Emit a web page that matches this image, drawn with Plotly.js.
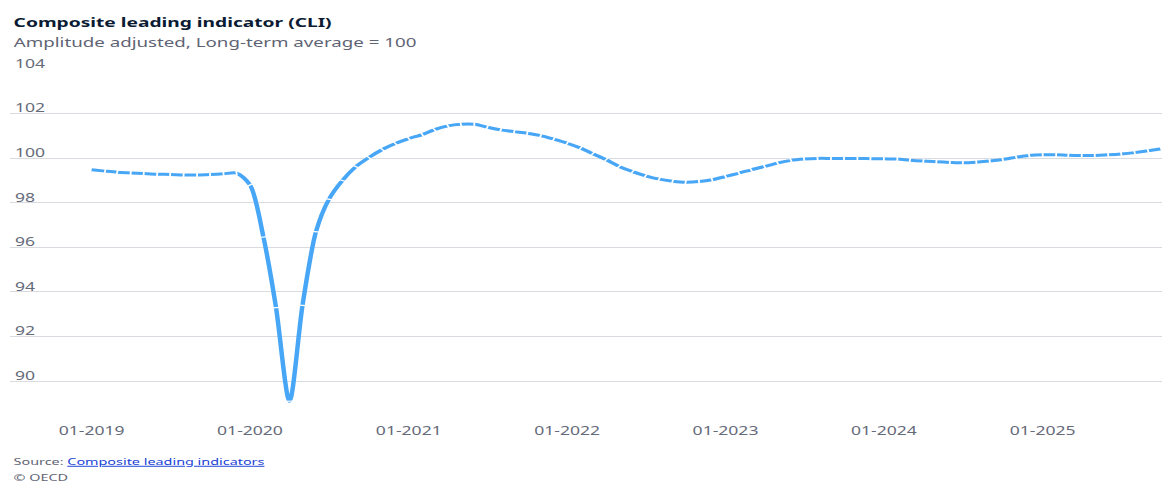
<!DOCTYPE html>
<html>
<head>
<meta charset="utf-8">
<script src="https://cdn.plot.ly/plotly-3.0.1.min.js"></script>
<style>
html,body{margin:0;padding:0;background:#fff;overflow:hidden;width:1162px;height:483px;}
#chart{width:775px;height:483px;transform:scaleX(1.49935);transform-origin:0 0;}
</style>
</head>
<body>
<div id="chart"></div>
<script>
// Monthly CLI values, Jan 2019 .. Oct 2025
const startYear = 2019;
const cli2019 = [99.48, 99.42, 99.37, 99.34, 99.31, 99.28, 99.27, 99.25, 99.25, 99.27, 99.30, 99.33];
const cli2020 = [98.80, 96.46, 93.30, 89.10, 93.40, 96.70, 98.16, 99.00, 99.62, 100.03, 100.39, 100.66];
const cli2021 = [100.88, 101.06, 101.28, 101.45, 101.52, 101.52, 101.39, 101.27, 101.19, 101.12, 101.01, 100.85];
const cli2022 = [100.67, 100.45, 100.20, 99.93, 99.63, 99.40, 99.21, 99.06, 98.97, 98.92, 98.95, 99.03];
const cli2023 = [99.18, 99.33, 99.48, 99.63, 99.78, 99.90, 99.96, 99.99, 99.99, 99.99, 99.99, 99.98];
const cli2024 = [99.97, 99.96, 99.91, 99.87, 99.84, 99.81, 99.79, 99.82, 99.87, 99.94, 100.04, 100.12];
const cli2025 = [100.15, 100.15, 100.13, 100.12, 100.12, 100.15, 100.19, 100.25, 100.33, 100.42];
const yTicks = [90, 92, 94, 96, 98, 100, 102, 104];

const values = [].concat(cli2019, cli2020, cli2021, cli2022, cli2023, cli2024, cli2025);
const dates = values.map((v, i) => {
  const y = startYear + Math.floor(i / 12);
  const m = (i % 12) + 1;
  return y + '-' + String(m).padStart(2, '0') + '-01';
});

const W = 775, H = 483;
const plotTop = 69, plotBottom = 405, plotH = plotBottom - plotTop;
const py = p => (plotBottom - p) / plotH;

const trace = {
  x: dates, y: values, type: 'scatter', mode: 'lines+markers',
  line: {color: '#47a6f5', width: 3, shape: 'spline', smoothing: 0.8},
  marker: {symbol: 'line-ew', size: 3.5, angleref: 'previous', line: {color: '#ffffff', width: 1.2}, color: '#ffffff'},
  hoverinfo: 'x+y'
};

const layout = {
  width: W, height: H,
  margin: {l: 6.67, r: 0, t: plotTop, b: H - plotBottom, pad: 0},
  paper_bgcolor: '#ffffff', plot_bgcolor: '#ffffff',
  font: {family: '"Noto Sans", "Open Sans", sans-serif', color: '#666b7a', size: 11.7},
  showlegend: false,
  xaxis: {
    type: 'date', range: ['2018-06-28', '2025-10-03'],
    tick0: '2019-01-01', dtick: 'M12', tickformat: '%m-%Y',
    showgrid: false, zeroline: false, showline: false, ticks: '',
    tickfont: {size: 11.7, color: '#666b7a'}, ticklabelstandoff: 17
  },
  yaxis: {
    range: [88.93, 104], tickvals: yTicks, ticktext: yTicks.map(String),
    showgrid: true, gridcolor: '#d9dbe1', gridwidth: 1, zeroline: false, showline: false,
    ticks: '', ticklabelposition: 'inside top', ticklabeloverflow: 'allow', ticklabelshift: 3,
    tickfont: {size: 11.7, color: '#666b7a'}
  },
  annotations: [
    {text: '<b>Composite leading indicator (CLI)</b>', xref: 'paper', yref: 'paper', x: 0, y: py(22.5),
     xanchor: 'left', yanchor: 'middle', showarrow: false,
     font: {size: 12.8, color: '#0b1b33', family: '"Noto Sans", sans-serif', weight: 800}},
    {text: 'Amplitude adjusted, Long-term average = 100', xref: 'paper', yref: 'paper', x: 0, y: py(42),
     xanchor: 'left', yanchor: 'middle', showarrow: false,
     font: {size: 12.5, color: '#5f6474'}},
    {text: 'Source: <a href="#" style="color:#1a3fd6"><span style="text-decoration:underline;color:#1a3fd6">Composite leading indicators</span></a>',
     xref: 'paper', yref: 'paper', x: 0, y: py(461),
     xanchor: 'left', yanchor: 'middle', showarrow: false,
     font: {size: 9.6, color: '#5f6474'}},
    {text: '© OECD', xref: 'paper', yref: 'paper', x: 0, y: py(477.5),
     xanchor: 'left', yanchor: 'middle', showarrow: false,
     font: {size: 9.6, color: '#5f6474'}}
  ]
};

Plotly.newPlot('chart', [trace], layout, {displayModeBar: false, staticPlot: true});
</script>
</body>
</html>
